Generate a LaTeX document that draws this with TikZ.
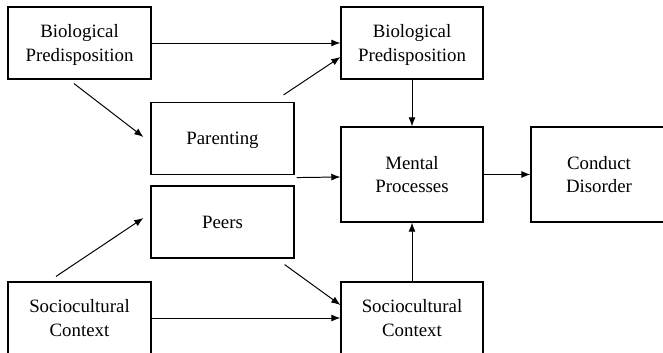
\documentclass[tikz,border=0pt]{standalone}
\usepackage{fontspec}
\setmainfont{Liberation Serif}
\usetikzlibrary{arrows.meta}

\begin{document}
\begin{tikzpicture}[x=0.025cm,y=-0.025cm,
    block/.style={draw, line width=0.8pt, minimum width=3.575cm, minimum height=1.8cm,
      align=center, text=black, inner sep=0pt, text depth=0pt, font=\fontsize{13.4}{17}\selectfont},
    link/.style={-{Latex[length=6.5pt,width=5pt]}, line width=0.7pt}]
    \useasboundingbox (0,0) rectangle (663,353);

    \node[block] (bpa) at (79.5, 43) {Biological\\Predisposition};
    \node[block] (par) at (222.5, 138.5) {Parenting};
    \node[block] (pee) at (222.5, 222) {Peers};
    \node[block] (soa) at (79.5, 318) {Sociocultural\\Context};

    \node[block, minimum width=3.55cm] (bpb) at (412, 43) {Biological\\Predisposition};
    \node[block, minimum width=3.55cm, minimum height=2.375cm] (men) at (412, 174.5) {Mental\\Processes};
    \node[block, minimum width=3.55cm] (sob) at (412, 318) {Sociocultural\\Context};

    \node[block, minimum width=3.4cm, minimum height=2.375cm] (con) at (599, 174.5) {Conduct\\Disorder};

    \path[link]
        (bpa.east) edge (bpa.east -| bpb.west)
        ([shift={(-5.5,4)}]bpa.south) edge ([shift={(-7,-1.5)}]par.west)
        ([shift={(-11,-7)}]par.north east) edge ([shift={(0,14)}]bpb.west)
        ([shift={(2,2.5)}]par.south east) edge ([shift={(0,2.5)}]men.west)

        (soa.east) edge (soa.east -| sob.west)
        ([shift={(-23.5,-5)}]soa.north) edge ([shift={(-7,-4)}]pee.west)
        ([shift={(-10,6)}]pee.south east) edge ([shift={(0,-13)}]sob.west)

        (bpb.south) edge (men.north)
        (sob.north) edge (men.south)
        (men.east) edge (con.west);
\end{tikzpicture}
\end{document}
